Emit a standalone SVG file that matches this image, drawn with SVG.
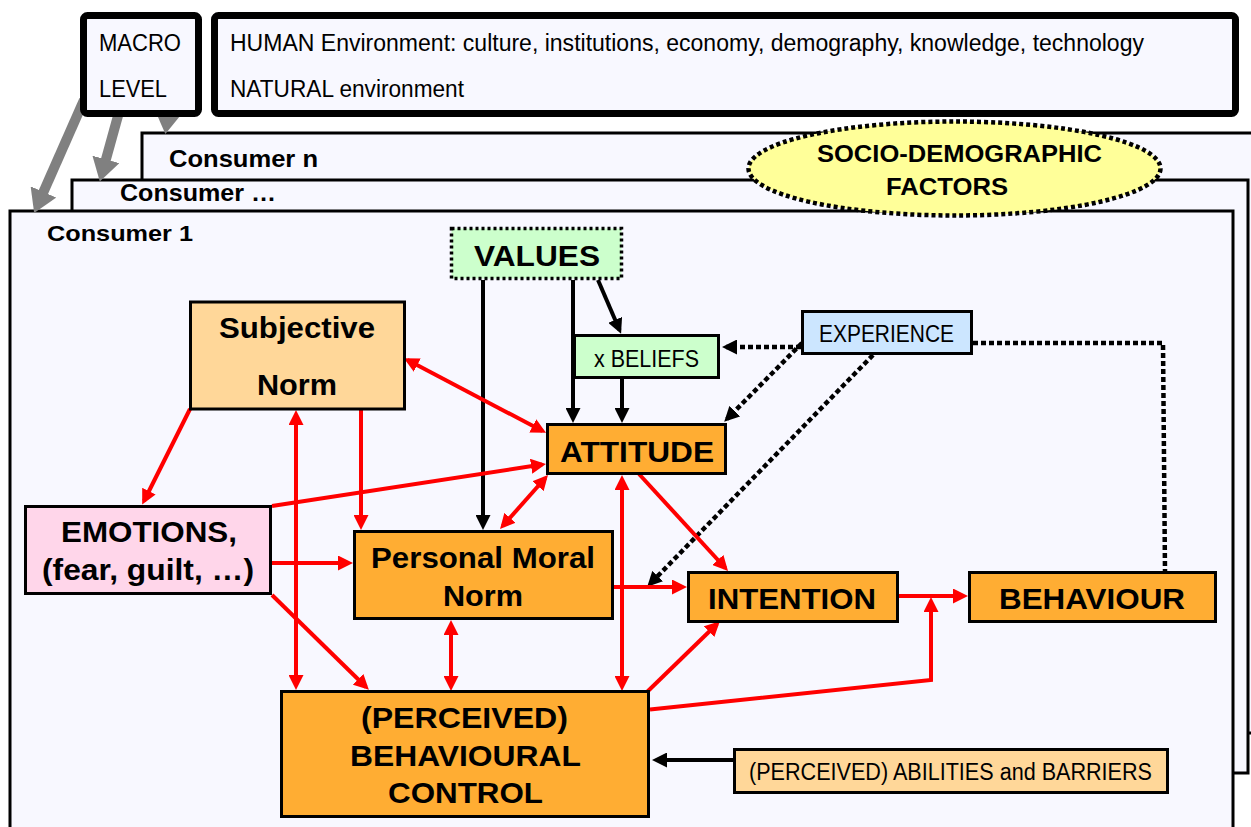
<svg xmlns="http://www.w3.org/2000/svg" width="1251" height="827" viewBox="0 0 1251 827">
<style>
.frame{fill:#f8f8ff;stroke:#000;stroke-width:3}
.macro{fill:#f8f8ff;stroke:#000;stroke-width:7}
.node{stroke:#000;stroke-width:3}
.big{font-family:"Liberation Sans",Arial,sans-serif;font-weight:bold;font-size:30px;fill:#000}
.nar{font-family:"Liberation Sans Narrow","Liberation Sans",Arial,sans-serif;font-size:23px;fill:#000}
.cons{font-family:"Liberation Sans",Arial,sans-serif;font-weight:bold;fill:#000}
.red{fill:none;stroke:#ff0000;stroke-width:4}
.blk{fill:none;stroke:#000;stroke-width:4}
.dot{fill:none;stroke:#000;stroke-width:4.5;stroke-dasharray:5 3}
.grey{fill:none;stroke:#808080;stroke-width:10}
</style>
<defs>
<marker id="ar" markerUnits="userSpaceOnUse" markerWidth="17" markerHeight="15" refX="11" refY="7.5" orient="auto-start-reverse"><path d="M0,0 L15,7.5 L0,15 z" fill="#ff0000"/></marker>
<marker id="ab" markerUnits="userSpaceOnUse" markerWidth="17" markerHeight="15" refX="11" refY="7.5" orient="auto-start-reverse"><path d="M0,0 L15,7.5 L0,15 z" fill="#000"/></marker>
<marker id="ag" markerUnits="userSpaceOnUse" markerWidth="24" markerHeight="28" refX="11" refY="14" orient="auto"><path d="M0,0 L23,14 L0,28 z" fill="#808080"/></marker>
</defs>
<rect width="1251" height="827" fill="#ffffff"/>

<g id="frames">
<rect class="frame" x="142" y="133" width="1200" height="600"/>
<rect class="frame" x="72" y="180" width="1176" height="593"/>
<rect class="frame" x="10" y="211" width="1223" height="700"/>
<text class="cons" x="169" y="167" font-size="24" textLength="149" lengthAdjust="spacingAndGlyphs">Consumer n</text>
<text class="cons" x="120" y="201" font-size="24" textLength="156" lengthAdjust="spacingAndGlyphs">Consumer …</text>
<text class="cons" x="47" y="241" font-size="22" textLength="146" lengthAdjust="spacingAndGlyphs">Consumer 1</text>
</g>

<g id="macro-arrows">
<path class="grey" d="M84,100 L39,202" marker-end="url(#ag)"/>
<path class="grey" d="M121,105 L103,170" marker-end="url(#ag)"/>
<path class="grey" d="M170,100 L167,122" marker-end="url(#ag)"/>
</g>

<g id="macro">
<rect class="macro" x="83.5" y="15.5" width="115" height="98" rx="4"/>
<text class="nar" x="99" y="51" textLength="82" lengthAdjust="spacingAndGlyphs">MACRO</text>
<text class="nar" x="99" y="97" textLength="68" lengthAdjust="spacingAndGlyphs">LEVEL</text>
</g>
<g id="environment">
<rect class="macro" x="214.5" y="15.5" width="1021" height="98" rx="4"/>
<text class="nar" x="230" y="51" textLength="914" lengthAdjust="spacingAndGlyphs">HUMAN Environment: culture, institutions, economy, demography, knowledge, technology</text>
<text class="nar" x="230" y="97" textLength="234" lengthAdjust="spacingAndGlyphs">NATURAL environment</text>
</g>

<g id="socio">
<ellipse cx="954.5" cy="168.5" rx="206" ry="47" fill="#ffff99" stroke="#000" stroke-width="4.5" stroke-dasharray="4 3"/>
<text class="cons" x="817" y="162" font-size="24" textLength="285" lengthAdjust="spacingAndGlyphs">SOCIO-DEMOGRAPHIC</text>
<text class="cons" x="886" y="195" font-size="24" textLength="122" lengthAdjust="spacingAndGlyphs">FACTORS</text>
</g>

<g id="connectors">
<path class="blk" d="M483,280 L483,526" marker-end="url(#ab)"/>
<path class="blk" d="M573,280 L573,419" marker-end="url(#ab)"/>
<path class="blk" d="M598,280 L619.5,330" marker-end="url(#ab)"/>
<path class="blk" d="M622,379 L622,419" marker-end="url(#ab)"/>
<path class="blk" d="M733,760 L656,760" marker-end="url(#ab)"/>
<path class="dot" d="M801,347 L726,347" marker-end="url(#ab)"/>
<path class="dot" d="M802,343 L727,419" marker-end="url(#ab)"/>
<path class="dot" d="M873,355 L650,584" marker-end="url(#ab)"/>
<path class="dot" d="M973,343 L1163,343 L1165,571"/>
<path class="red" d="M407.5,360 L542.5,431" marker-start="url(#ar)" marker-end="url(#ar)"/>
<path class="red" d="M190,409 L144,501" marker-end="url(#ar)"/>
<path class="red" d="M361,410 L361,526" marker-end="url(#ar)"/>
<path class="red" d="M296,414 L296,686" marker-start="url(#ar)" marker-end="url(#ar)"/>
<path class="red" d="M272,506 L542,464.6" marker-end="url(#ar)"/>
<path class="red" d="M272,563 L349,563" marker-end="url(#ar)"/>
<path class="red" d="M272,595 L366,687" marker-end="url(#ar)"/>
<path class="red" d="M502.7,526 L545.3,478" marker-start="url(#ar)" marker-end="url(#ar)"/>
<path class="red" d="M451,624 L451,687" marker-start="url(#ar)" marker-end="url(#ar)"/>
<path class="red" d="M614,587 L683,587" marker-end="url(#ar)"/>
<path class="red" d="M622,479 L622,687" marker-start="url(#ar)" marker-end="url(#ar)"/>
<path class="red" d="M639,474 L725.3,568" marker-end="url(#ar)"/>
<path class="red" d="M647,692 L717,624" marker-end="url(#ar)"/>
<path class="red" d="M899,596 L964,596" marker-end="url(#ar)"/>
<path class="red" d="M650,709.5 L931,680 L931,601" stroke-width="5" marker-end="url(#ar)"/>
</g>

<g id="values">
<rect x="451.5" y="228.5" width="170" height="50" fill="#ccffcc" stroke="#000" stroke-width="3.5" stroke-dasharray="3 3"/>
<text class="big" x="474" y="266" textLength="126" lengthAdjust="spacingAndGlyphs">VALUES</text>
</g>
<g id="subjective-norm">
<rect class="node" x="190.5" y="302" width="214" height="107" fill="#ffd799"/>
<text class="big" x="219" y="338" textLength="156" lengthAdjust="spacingAndGlyphs">Subjective</text>
<text class="big" x="257" y="395" textLength="80" lengthAdjust="spacingAndGlyphs">Norm</text>
</g>
<g id="beliefs">
<rect class="node" x="574.5" y="335.5" width="144" height="42" fill="#ccffcc"/>
<text class="nar" x="594" y="367" font-size="24" textLength="105" lengthAdjust="spacingAndGlyphs">x BELIEFS</text>
</g>
<g id="experience">
<rect class="node" x="802.5" y="311.5" width="169" height="42" fill="#cce6ff"/>
<text class="nar" x="819" y="342" font-size="24" textLength="135" lengthAdjust="spacingAndGlyphs">EXPERIENCE</text>
</g>
<g id="attitude">
<rect class="node" x="547.5" y="424.5" width="178" height="49" fill="#ffad33"/>
<text class="big" x="560" y="462" textLength="154" lengthAdjust="spacingAndGlyphs">ATTITUDE</text>
</g>
<g id="emotions">
<rect class="node" x="25.5" y="506.5" width="245" height="87" fill="#ffd6ea"/>
<text class="big" x="61" y="542" textLength="176" lengthAdjust="spacingAndGlyphs">EMOTIONS,</text>
<text class="big" x="42" y="580" textLength="212" lengthAdjust="spacingAndGlyphs">(fear, guilt, …)</text>
</g>
<g id="personal-moral-norm">
<rect class="node" x="354.5" y="531.5" width="258" height="87" fill="#ffad33"/>
<text class="big" x="371" y="568" textLength="224" lengthAdjust="spacingAndGlyphs">Personal Moral</text>
<text class="big" x="443" y="606" textLength="80" lengthAdjust="spacingAndGlyphs">Norm</text>
</g>
<g id="intention">
<rect class="node" x="688.5" y="572.5" width="209" height="49" fill="#ffad33"/>
<text class="big" x="708" y="609" textLength="168" lengthAdjust="spacingAndGlyphs">INTENTION</text>
</g>
<g id="behaviour">
<rect class="node" x="969.5" y="572.5" width="246" height="49" fill="#ffad33"/>
<text class="big" x="999" y="609" textLength="186" lengthAdjust="spacingAndGlyphs">BEHAVIOUR</text>
</g>
<g id="pbc">
<rect class="node" x="281.5" y="691.5" width="367" height="125" fill="#ffad33"/>
<text class="big" x="361" y="728" textLength="207" lengthAdjust="spacingAndGlyphs">(PERCEIVED)</text>
<text class="big" x="350" y="766" textLength="231" lengthAdjust="spacingAndGlyphs">BEHAVIOURAL</text>
<text class="big" x="388" y="803" textLength="155" lengthAdjust="spacingAndGlyphs">CONTROL</text>
</g>
<g id="abilities">
<rect class="node" x="734.5" y="749.5" width="433" height="43" fill="#ffd799"/>
<text class="nar" x="749" y="780" font-size="24" textLength="403" lengthAdjust="spacingAndGlyphs">(PERCEIVED) ABILITIES and BARRIERS</text>
</g>
</svg>
